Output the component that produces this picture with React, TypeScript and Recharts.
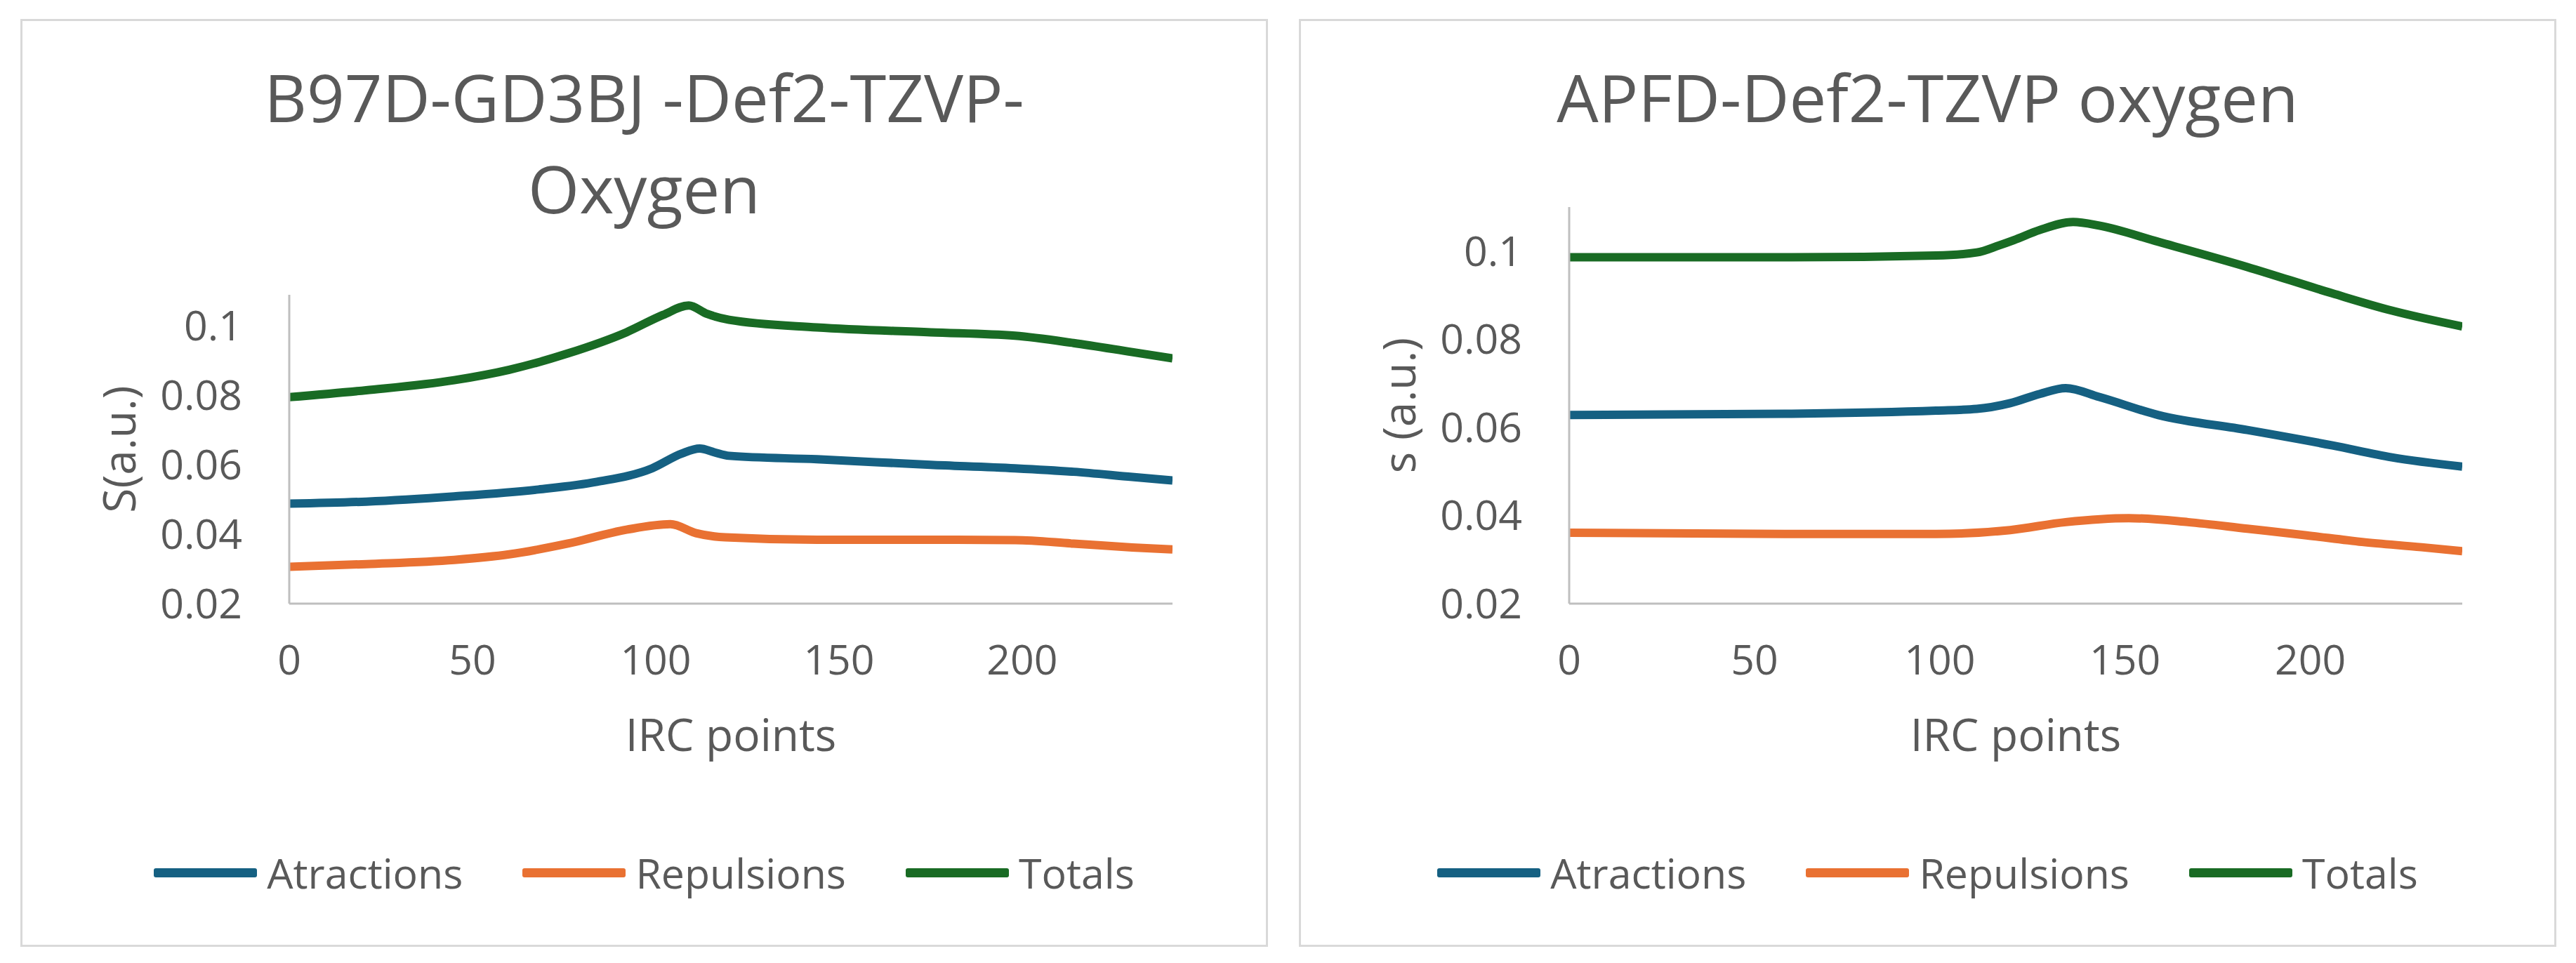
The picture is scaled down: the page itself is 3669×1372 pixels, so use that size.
import React from 'react';
import { LineChart, Line, XAxis, YAxis, Label } from 'recharts';

const FONT = '"Open Sans", sans-serif';
const TEXT = '#595959';
const AXIS = '#BFBFBF';

const seriesNames = ['Atractions', 'Repulsions', 'Totals'];
const seriesColors = ['#156082', '#E97132', '#196B24'];

const xTicks = [0, 50, 100, 150, 200];
const yTicks = [0.02, 0.04, 0.06, 0.08, 0.1];

// B97D-GD3BJ -Def2-TZVP- Oxygen
const b97dAtrIrc = [0, 21, 45, 68, 84, 99, 107, 112, 116, 120, 144, 175, 198, 214, 230, 241];
const b97dAtr = [0.0488, 0.0494, 0.0509, 0.0529, 0.0551, 0.059, 0.0632, 0.0647, 0.0636, 0.0626, 0.0616, 0.06, 0.059, 0.058, 0.0565, 0.0555];
const b97dRepIrc = [0, 21, 45, 60, 76, 92, 104, 111, 119, 144, 175, 198, 214, 230, 241];
const b97dRep = [0.0306, 0.0314, 0.0326, 0.0342, 0.0373, 0.0413, 0.0429, 0.0403, 0.0391, 0.0384, 0.0384, 0.0383, 0.0373, 0.0362, 0.0356];
const b97dTotIrc = [0, 21, 45, 60, 76, 92, 102, 109, 114, 120, 144, 175, 198, 214, 230, 241];
const b97dTot = [0.0795, 0.0815, 0.0844, 0.0874, 0.0921, 0.0982, 0.1032, 0.1059, 0.1035, 0.1018, 0.0996, 0.0982, 0.0972, 0.0951, 0.0925, 0.0907];

// APFD-Def2-TZVP oxygen
const apfdAtrIrc = [0, 60, 99, 110, 119, 127, 134, 143, 159, 183, 206, 222, 241];
const apfdAtr = [0.0628, 0.0631, 0.0638, 0.0642, 0.0655, 0.0676, 0.0689, 0.0669, 0.0628, 0.0594, 0.0559, 0.0532, 0.0511];
const apfdRepIrc = [0, 60, 99, 119, 134, 151, 167, 183, 199, 214, 230, 241];
const apfdRep = [0.0361, 0.0358, 0.0358, 0.0367, 0.0385, 0.0394, 0.0385, 0.037, 0.0355, 0.034, 0.0328, 0.0319];
const apfdTotIrc = [0, 60, 99, 110, 116, 120, 127, 136, 143, 159, 183, 206, 222, 241];
const apfdTot = [0.0986, 0.0986, 0.099, 0.0997, 0.1013, 0.1025, 0.1048, 0.1066, 0.1058, 0.1021, 0.0964, 0.0904, 0.0865, 0.0829];

const pts = (xs: number[], ys: number[]) => xs.map((x, i) => ({ x, y: ys[i] }));

const tickStyle = { fill: TEXT, fontSize: 59, fontFamily: FONT };

const YTitle = (text: string) => (props: any) => {
  const vb = props.viewBox;
  const cx = vb.x + 8;
  const cy = vb.y + vb.height / 2;
  return (
    <text x={cx} y={cy + 23} transform={`rotate(-90 ${cx} ${cy})`} textAnchor="middle"
          fill={TEXT} fontSize={64} fontFamily={FONT}>{text}</text>
  );
};

const XTitle = (props: any) => {
  const vb = props.viewBox;
  return (
    <text x={vb.x + vb.width / 2} y={vb.y + 210} textAnchor="middle"
          fill={TEXT} fontSize={64} fontFamily={FONT}>IRC points</text>
  );
};

interface PanelProps {
  left: number;
  width: number;
  titleLines: string[];
  yLabel: string;
  yMax: number;
  plotTop: number;
  marginLeft: number;
  marginRight: number;
  series: { x: number; y: number }[][];
}

function Panel({ left, width, titleLines, yLabel, yMax, plotTop, marginLeft, marginRight, series }: PanelProps) {
  const height = 1322;
  return (
    <div style={{ position: 'absolute', left, top: 27, width, height, background: '#fff',
                  boxShadow: 'inset 0 0 0 3px #D9D9D9', fontFamily: FONT }}>
      <div style={{ position: 'absolute', top: 46, left: 0, width: '100%', textAlign: 'center',
                    fontSize: 94, lineHeight: '130px', color: TEXT }}>
        {titleLines.map(t => <div key={t}>{t}</div>)}
      </div>

      <div style={{ position: 'absolute', left: 0, top: 0 }}>
        <LineChart width={width} height={height}
                   margin={{ top: plotTop, right: marginRight, bottom: 339, left: marginLeft }}>
          <XAxis type="number" dataKey="x" domain={[0, 241]} ticks={xTicks} height={150}
                 allowDataOverflow axisLine={{ stroke: AXIS, strokeWidth: 3 }}
                 tickLine={false} tickSize={0} tickMargin={59} tick={tickStyle}>
            <Label content={XTitle} />
          </XAxis>
          <YAxis type="number" domain={[0.02, yMax]} ticks={yTicks} width={250}
                 allowDataOverflow axisLine={{ stroke: AXIS, strokeWidth: 3 }}
                 tickLine={false} tickSize={0} tickMargin={67} tick={tickStyle}>
            <Label content={YTitle(yLabel)} />
          </YAxis>
          {series.map((d, i) => (
            <Line key={seriesNames[i]} data={d} dataKey="y" name={seriesNames[i]}
                  type="monotone" stroke={seriesColors[i]} strokeWidth={12}
                  dot={false} activeDot={false} isAnimationActive={false} />
          ))}
        </LineChart>
      </div>

      <div style={{ position: 'absolute', top: 1176, left: 0, width: '100%', display: 'flex',
                    justifyContent: 'center', gap: 85, color: TEXT, fontSize: 59, lineHeight: '80px' }}>
        {seriesNames.map((n, i) => (
          <div key={n} style={{ display: 'flex', alignItems: 'center' }}>
            <span style={{ display: 'inline-block', width: 147, height: 13, borderRadius: 3,
                           background: seriesColors[i], marginRight: 14 }} />
            <span>{n}</span>
          </div>
        ))}
      </div>
    </div>
  );
}

export default function App() {
  return (
    <div style={{ position: 'absolute', left: 0, top: 0, width: 3669, height: 1372, background: '#fff' }}>
      <Panel left={29} width={1777} titleLines={['B97D-GD3BJ -Def2-TZVP-', 'Oxygen']}
             yLabel="S(a.u.)" yMax={0.109} plotTop={393} marginLeft={133} marginRight={136}
             series={[pts(b97dAtrIrc, b97dAtr), pts(b97dRepIrc, b97dRep), pts(b97dTotIrc, b97dTot)]} />
      <Panel left={1850} width={1791} titleLines={['APFD-Def2-TZVP oxygen']}
             yLabel="s (a.u.)" yMax={0.11} plotTop={268} marginLeft={135} marginRight={134}
             series={[pts(apfdAtrIrc, apfdAtr), pts(apfdRepIrc, apfdRep), pts(apfdTotIrc, apfdTot)]} />
    </div>
  );
}
